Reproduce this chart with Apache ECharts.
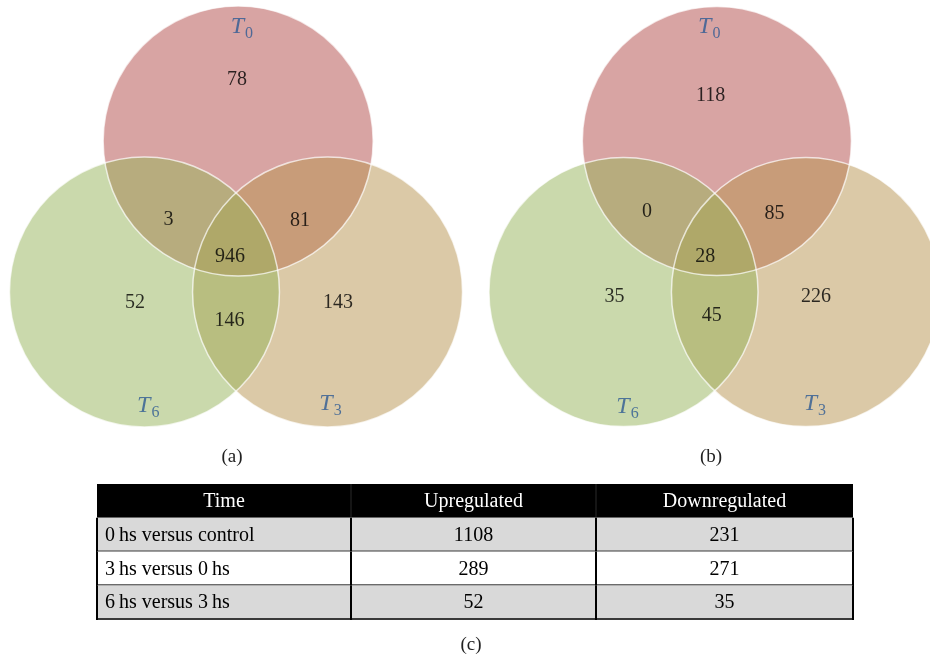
<!DOCTYPE html>
<html><head><meta charset="utf-8">
<script src="https://cdn.jsdelivr.net/npm/echarts@6/dist/echarts.min.js"></script>
<style>html,body{margin:0;padding:0;background:#fff}#chart{width:930px;height:660px}</style>
</head><body><div id="chart"></div>
<script>
// ---------------- data ----------------
const setNames = ['T0', 'T3', 'T6'];
const setSubscripts = ['0', '3', '6'];
const regionNames = ['T0 only', 'T0 ∩ T6', 'T0 ∩ T3', 'T0 ∩ T3 ∩ T6', 'T6 only', 'T3 ∩ T6', 'T3 only'];
const countsA = [78, 3, 81, 946, 52, 146, 143];
const countsB = [118, 0, 85, 28, 35, 45, 226];
const tableHeaders = ['Time', 'Upregulated', 'Downregulated'];
const timeLabels = ['0\u2009hs versus control', '3\u2009hs versus 0\u2009hs', '6\u2009hs versus 3\u2009hs'];
const upregulated = [1108, 289, 52];
const downregulated = [231, 271, 35];
const panelCaptions = ['(a)', '(b)', '(c)'];

// ---------------- layout ----------------
const R = 135; // pixels per unit (circle radius = 1 unit)
const circleCenters = [[0.016, 1.118], [0.678, 0], [-0.678, 0]]; // T0, T3, T6
const circleFills = ['rgba(177,73,71,0.5)', 'rgba(183,147,79,0.5)', 'rgba(149,179,89,0.5)'];
const panels = [
  { ox: 236, oy: 292, xr: [-1.72, 1.72], yr: [-1.3, 2.1],
    setLabelPos: [[0.044, 1.963], [0.70, -0.83], [-0.65, -0.84]],
    regionPos: [[0.007, 1.57], [-0.50, 0.533], [0.474, 0.526], [-0.044, 0.26], [-0.748, -0.08], [-0.048, -0.215], [0.755, -0.08]],
    counts: countsA },
  { ox: 715.5, oy: 292, xr: [-1.72, 1.6], yr: [-1.3, 2.1],
    setLabelPos: [[-0.041, 1.963], [0.744, -0.83], [-0.648, -0.85]],
    regionPos: [[-0.03, 1.452], [-0.504, 0.593], [0.444, 0.578], [-0.07, 0.26], [-0.744, -0.037], [-0.022, -0.178], [0.752, -0.037]],
    counts: countsB }
];
const captionPos = [[232, 457], [711, 457], [471, 645]];
const table = { left: 97, top: 484, colEdges: [0, 254, 499, 756], height: 135 };
const serif = 'Liberation Serif';

// ---------------- build ----------------
const grids = [], xAxes = [], yAxes = [], series = [];
panels.forEach((p, i) => {
  grids.push({ left: p.ox + p.xr[0] * R, width: (p.xr[1] - p.xr[0]) * R,
               top: p.oy - p.yr[1] * R, height: (p.yr[1] - p.yr[0]) * R });
  xAxes.push({ gridIndex: i, type: 'value', min: p.xr[0], max: p.xr[1], show: false });
  yAxes.push({ gridIndex: i, type: 'value', min: p.yr[0], max: p.yr[1], show: false });
  const circleData = setNames.map((n, k) => ({ name: n, value: circleCenters[k] }));
  series.push({
    type: 'custom', xAxisIndex: i, yAxisIndex: i, clip: false, silent: true, z: 1,
    data: circleData,
    renderItem: (params, api) => {
      const c = api.coord([api.value(0), api.value(1)]);
      const r = api.size([1, 0])[0];
      return { type: 'circle', shape: { cx: c[0], cy: c[1], r: r },
               style: { fill: circleFills[params.dataIndex], stroke: null } };
    }
  });
  series.push({
    type: 'custom', xAxisIndex: i, yAxisIndex: i, clip: false, silent: true, z: 2,
    data: circleData,
    renderItem: (params, api) => {
      const c = api.coord([api.value(0), api.value(1)]);
      const r = api.size([1, 0])[0];
      return { type: 'circle', shape: { cx: c[0], cy: c[1], r: r },
               style: { fill: null, stroke: 'rgba(255,255,255,0.7)', lineWidth: 1.5 } };
    }
  });
  series.push({
    type: 'scatter', xAxisIndex: i, yAxisIndex: i, silent: true, z: 3,
    symbolSize: 1, itemStyle: { color: 'rgba(0,0,0,0)' },
    data: p.counts.map((v, k) => ({ name: regionNames[k], value: [p.regionPos[k][0], p.regionPos[k][1], v] })),
    label: { show: true, position: 'inside', formatter: d => String(d.value[2]),
             fontFamily: serif, fontSize: 20, color: '#000', textBorderWidth: 0 }
  });
  series.push({
    type: 'scatter', xAxisIndex: i, yAxisIndex: i, silent: true, z: 3,
    symbolSize: 1, itemStyle: { color: 'rgba(0,0,0,0)' },
    data: setNames.map((n, k) => ({ name: n, value: [p.setLabelPos[k][0], p.setLabelPos[k][1]] })),
    label: { show: true, position: 'inside', fontSize: 24, textBorderWidth: 0,
             formatter: d => '{t|T}{s|' + setSubscripts[d.dataIndex] + '}',
             rich: {
               t: { fontFamily: serif, fontStyle: 'italic', fontSize: 24, color: '#2d5a93', lineHeight: 30, textBorderWidth: 0 },
               s: { fontFamily: serif, fontSize: 16, color: '#2d5a93', lineHeight: 30, padding: [14, 0, 0, 1], textBorderWidth: 0 }
             } }
  });
});

// table
grids.push({ left: table.left, top: table.top, width: table.colEdges[3], height: table.height });
xAxes.push({ gridIndex: 2, type: 'value', min: 0, max: table.colEdges[3], show: false });
yAxes.push({ gridIndex: 2, type: 'category', data: ['header', 'r1', 'r2', 'r3'], inverse: true, show: false });
const cells = [];
tableHeaders.forEach((h, c) => cells.push({ value: [c, 0], text: h }));
timeLabels.forEach((t, r) => {
  cells.push({ value: [0, r + 1], text: t });
  cells.push({ value: [1, r + 1], text: String(upregulated[r]) });
  cells.push({ value: [2, r + 1], text: String(downregulated[r]) });
});
series.push({
  type: 'custom', xAxisIndex: 2, yAxisIndex: 2, silent: true, clip: false,
  data: cells,
  renderItem: (params, api) => {
    const c = api.value(0), r = api.value(1);
    const x0 = api.coord([table.colEdges[c], r])[0];
    const x1 = api.coord([table.colEdges[c + 1], r])[0];
    const yc = api.coord([0, r])[1];
    const h = api.size([0, 1])[1];
    const y0 = yc - h / 2, y1 = yc + h / 2;
    const text = cells[params.dataIndex].text;
    const header = r === 0;
    const children = [];
    children.push({ type: 'rect', shape: { x: x0, y: y0, width: x1 - x0, height: h },
      style: { fill: header ? '#000' : (r % 2 === 1 ? '#d9d9d9' : '#ffffff') } });
    if (!header) {
      children.push({ type: 'line', shape: { x1: x0, y1: y1, x2: x1, y2: y1 },
        style: { stroke: '#3a3a3a', lineWidth: 2 } });
      children.push({ type: 'line', shape: { x1: x0, y1: y0, x2: x0, y2: y1 + 1 },
        style: { stroke: '#000', lineWidth: 2 } });
      if (c === 2) children.push({ type: 'line', shape: { x1: x1, y1: y0, x2: x1, y2: y1 + 1 },
        style: { stroke: '#000', lineWidth: 2 } });
    } else if (c > 0) {
      children.push({ type: 'line', shape: { x1: x0, y1: y0, x2: x0, y2: y1 },
        style: { stroke: '#2a2a2a', lineWidth: 1 } });
    }
    const leftAlign = !header && c === 0;
    children.push({ type: 'text', z2: 10,
      style: { x: leftAlign ? x0 + 8 : (x0 + x1) / 2, y: yc + 1, text: text,
               textAlign: leftAlign ? 'left' : 'center', textVerticalAlign: 'middle',
               fontFamily: serif, fontSize: 20, fill: header ? '#fff' : '#000' } });
    return { type: 'group', children: children };
  }
});

const option = {
  animation: false,
  backgroundColor: '#fff',
  grid: grids, xAxis: xAxes, yAxis: yAxes, series: series,
  graphic: panelCaptions.map((t, i) => ({
    type: 'text', x: captionPos[i][0], y: captionPos[i][1], silent: true,
    style: { text: t, textAlign: 'center', textVerticalAlign: 'middle',
             fontFamily: serif, fontSize: 19, fill: '#222' }
  }))
};
const chart = echarts.init(document.getElementById('chart'), null, { renderer: 'canvas' });
chart.setOption(option);
</script>
</body></html>
